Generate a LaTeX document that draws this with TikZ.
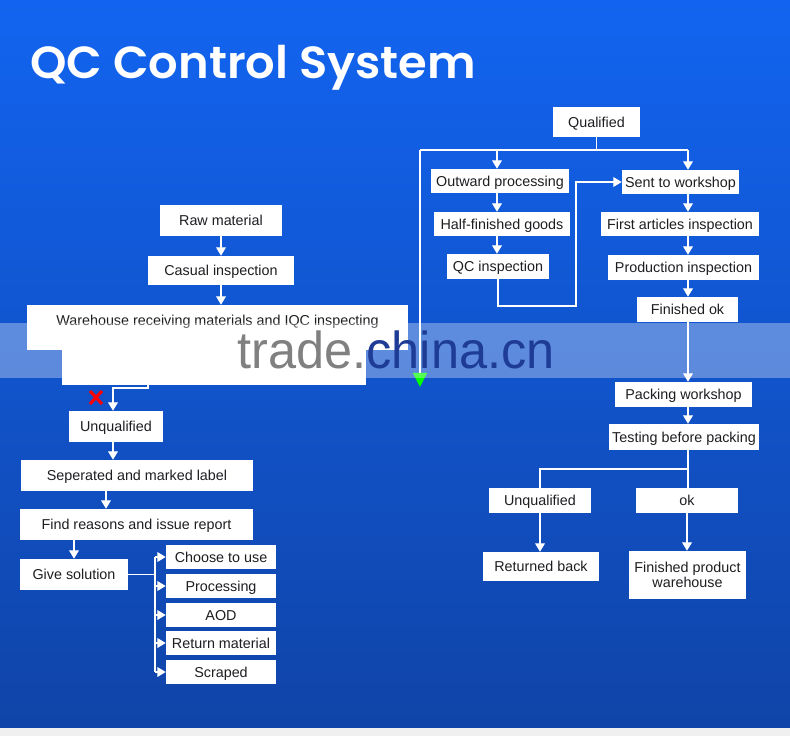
\documentclass[tikz,border=0pt]{standalone}
\usepackage{fontspec}
\setmainfont{Liberation Sans}
\newfontfamily\titlefont{Poppins}[BoldFont={Poppins SemiBold}]
\usepackage{tikz}
\usetikzlibrary{arrows.meta, positioning, calc}

\definecolor{bgtop}{RGB}{18,100,240}
\definecolor{bgbot}{RGB}{16,68,168}
\definecolor{boxtext}{RGB}{30,30,34}
\definecolor{wmgray}{RGB}{128,128,128}
\definecolor{wmblue}{RGB}{30,60,150}

\begin{document}
\begin{tikzpicture}[
    x=0.025cm, y=-0.025cm,
    box/.style={rectangle, fill=white, text=boxtext, font=\fontsize{10.2}{11}\selectfont, inner sep=2pt, minimum height=0.6cm, text height=0.72em, text depth=0pt},
    line/.style={draw=white, line width=0.9pt},
    arr/.style={line, -{Triangle[width=7pt, length=6pt]}}
]
    % Background
    \shade[top color=bgtop, bottom color=bgbot] (0,0) rectangle (790,728);
    \fill[gray!12] (0,728) rectangle (790,736);
    \useasboundingbox (0,0) rectangle (790,736);

    % Title
    \node[anchor=base west, text=white, font=\titlefont\bfseries\fontsize{32}{36}\selectfont, inner sep=0pt, xscale=1.03] (title) at (30,79) {QC Control System};

    % Nodes, left side
    \node [box, minimum width=3.05cm, minimum height=0.775cm] (raw) at (221,220.5) {Raw material};
    \node [box, minimum width=3.625cm, minimum height=0.725cm] (casual) at (221,270.5) {Casual inspection};
    \node [box, minimum width=9.525cm, minimum height=1.125cm, text depth=0.375cm] (wh) at (217.5,327.5) {Warehouse receiving materials and IQC inspecting};
    \fill[white] (62,349) rectangle (366,385);
    \coordinate (whb) at (148,385);
    \node [box, minimum width=2.35cm, minimum height=0.775cm] (unq) at (116,426.5) {Unqualified};
    \node [box, minimum width=5.8cm, minimum height=0.775cm] (sep) at (137,475.5) {Seperated and marked label};
    \node [box, minimum width=5.825cm, minimum height=0.775cm] (find) at (136.5,524.5) {Find reasons and issue report};
    \node [box, minimum width=2.7cm, minimum height=0.775cm] (give) at (74,574.5) {Give solution};
    \node [box, minimum width=2.75cm] (choose) at (221,557) {Choose to use};
    \node [box, minimum width=2.75cm] (procs) at (221,586) {Processing};
    \node [box, minimum width=2.75cm] (aod) at (221,615) {AOD};
    \node [box, minimum width=2.75cm] (retm) at (221,643) {Return material};
    \node [box, minimum width=2.75cm] (scrap) at (221,672) {Scraped};

    % Nodes, right side
    \node [box, minimum width=2.175cm, minimum height=0.75cm] (qual) at (596.5,122) {Qualified};
    \node [box, minimum width=3.425cm] (outward) at (500,181) {Outward processing};
    \node [box, minimum width=3.375cm] (half) at (502,224) {Half-finished goods};
    \node [box, minimum width=2.55cm, minimum height=0.625cm] (qcins) at (498,266.5) {QC inspection};
    \node [box, minimum width=2.925cm] (sent) at (680.5,182) {Sent to workshop};
    \node [box, minimum width=3.95cm] (first) at (680,224) {First articles inspection};
    \node [box, minimum width=3.775cm, minimum height=0.625cm] (prod) at (683.5,267.5) {Production inspection};
    \node [box, minimum width=2.525cm, minimum height=0.625cm] (finok) at (687.5,309.5) {Finished ok};
    \node [box, minimum width=3.425cm, minimum height=0.625cm] (pack) at (683.5,394.5) {Packing workshop};
    \node [box, minimum width=3.75cm, minimum height=0.65cm] (test) at (684,437) {Testing before packing};
    \node [box, minimum width=2.55cm, minimum height=0.625cm] (unqb) at (540,500.5) {Unqualified};
    \node [box, minimum width=2.55cm, minimum height=0.625cm] (ok) at (687,500.5) {ok};
    \node [box, minimum width=2.9cm, minimum height=0.725cm] (ret) at (541,566.5) {Returned back};
    \node [box, minimum width=2.925cm, minimum height=1.2cm, align=center, text height={}, text depth={}] (fpw) at (687.5,575) {Finished product\\warehouse};

    % Helper coordinates
    \coordinate (lcol) at (497,0);
    \coordinate (rcol) at (688,0);
    \coordinate (qleft) at (420,150);
    \coordinate (qright) at (688,150);
    \coordinate (gtip) at (420,387);
    \coordinate (qcj) at (576,306);
    \coordinate (tj) at (688,469);
    \coordinate (gv) at (155,574.5);

    % Paths, left side
    \path [arr] (raw) -- (casual);
    \path [arr] (casual.south) -- (casual.south |- wh.north);
    \path [arr] (whb) -- ++(0,3) -| ([xshift=-0.075cm]unq.north);
    \path [arr] ([xshift=-0.075cm]unq.south) -- ([xshift=-0.075cm]unq.south |- sep.north);
    \path [arr] ([xshift=-0.775cm]sep.south) -- ([xshift=-0.775cm]sep.south |- find.north);
    \path [arr] (find.south -| give.north) -- (give.north);
    \path [line] (give.east) -- (gv);
    \path [line] (gv |- choose) -- (gv |- scrap);
    \foreach \n in {choose, procs, aod, retm, scrap}
        \path [arr] (gv |- \n.west) -- (\n.west);

    % Paths, right side
    \path [line] (qual.south) -- (qual.south |- qleft);
    \path [line] (qleft) -- (qright);
    \path [line, -{Triangle[width=10pt, length=10pt, color=green]}] (qleft) -- (gtip);
    \path [arr] (qleft -| lcol) -- (outward.north -| lcol);
    \path [arr] (outward.south -| lcol) -- (half.north -| lcol);
    \path [arr] (half.south -| lcol) -- (qcins.north -| lcol);
    \path [arr] (qcins.south) |- (qcj) |- (sent.west);
    \path [arr] (qright) -- (sent.north -| rcol);
    \path [arr] (sent.south -| rcol) -- (first.north -| rcol);
    \path [arr] (first.south -| rcol) -- (prod.north -| rcol);
    \path [arr] (prod.south -| rcol) -- (finok.north -| rcol);
    \path [arr] (finok.south -| rcol) -- (pack.north -| rcol);
    \path [arr] (pack.south -| rcol) -- (test.north -| rcol);
    \path [line] (test.south -| rcol) -- (ok.north -| rcol);
    \path [line] (tj) -| (unqb.north);
    \path [arr] (unqb.south) -- (unqb.south |- ret.north);
    \path [arr] (ok.south) -- (ok.south |- fpw.north);

    % Red mark
    \draw[red, line width=2.2pt] (90,391) -- (102,404) (102,391) -- (90,404);

    % Watermark band
    \fill[white, opacity=0.32] (0,323) rectangle (790,378);
    \node[font=\fontsize{37}{40}\selectfont, xscale=0.97] (wm) at (396,350) {\textcolor{wmgray}{trade.}\textcolor{wmblue}{china.cn}};
\end{tikzpicture}
\end{document}
